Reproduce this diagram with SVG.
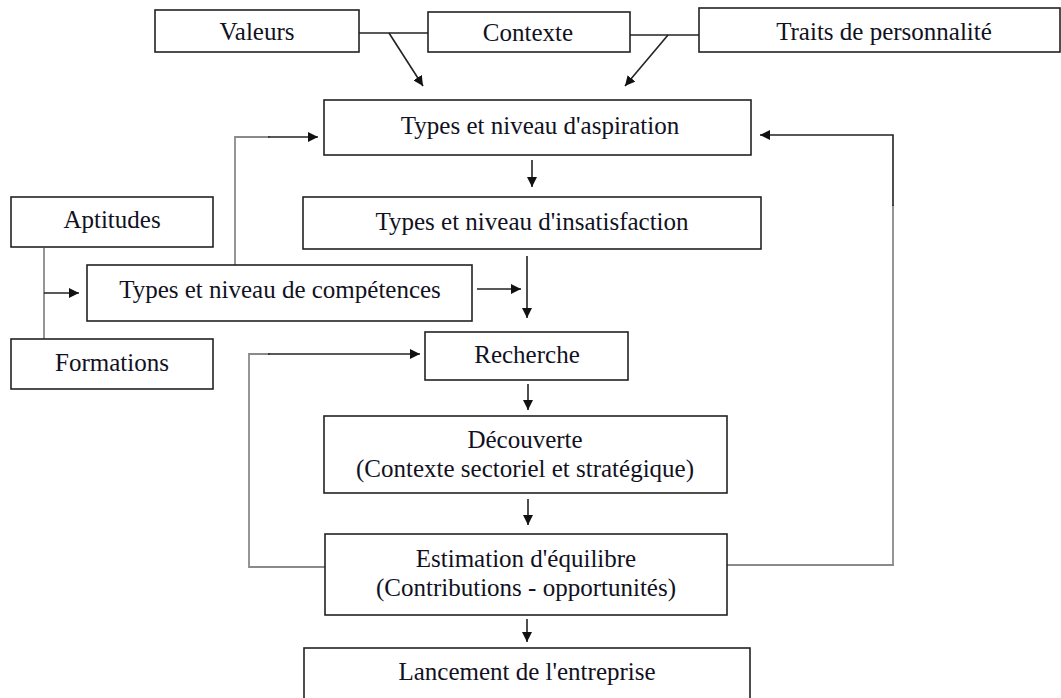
<svg xmlns="http://www.w3.org/2000/svg" width="1061" height="698" viewBox="0 0 1061 698">
  <style>
    .box { fill: #ffffff; stroke: #222222; stroke-width: 1.6; }
    .lbl { font-family: "Liberation Serif", "Times New Roman", serif; font-size: 25px; fill: #111122; text-anchor: middle; }
    .con { fill: none; stroke: #222222; stroke-width: 1.6; }
    .grey { fill: none; stroke: #8a8a8a; stroke-width: 1.8; }
  </style>
  <defs>
    <marker id="arrow" viewBox="0 0 10 10" refX="10" refY="5" markerWidth="10" markerHeight="10" markerUnits="userSpaceOnUse" orient="auto">
      <path d="M0,0 L10,5 L0,10 z" fill="#111111"/>
    </marker>
  </defs>
  <rect width="1061" height="698" fill="#ffffff"/>

  <!-- connectors -->
  <g id="connectors">
    <!-- top row inputs -->
    <line class="con" x1="359" y1="33" x2="428" y2="33"/>
    <line class="con" x1="389" y1="33" x2="423" y2="86" marker-end="url(#arrow)"/>
    <line class="con" x1="630" y1="35" x2="699" y2="35"/>
    <line class="con" x1="668" y1="35" x2="625" y2="86" marker-end="url(#arrow)"/>
    <!-- main chain -->
    <line class="con" x1="532" y1="160" x2="532" y2="187" marker-end="url(#arrow)"/>
    <line class="con" x1="527" y1="256" x2="527" y2="318" marker-end="url(#arrow)"/>
    <line class="con" x1="477" y1="289" x2="521" y2="289" marker-end="url(#arrow)"/>
    <line class="con" x1="528" y1="384" x2="528" y2="410" marker-end="url(#arrow)"/>
    <line class="con" x1="528" y1="499" x2="528" y2="525" marker-end="url(#arrow)"/>
    <line class="con" x1="527" y1="619" x2="527" y2="642" marker-end="url(#arrow)"/>
    <!-- aptitudes / formations into competences -->
    <line class="grey" x1="44" y1="248" x2="44" y2="339"/>
    <line class="con" x1="44" y1="293" x2="79" y2="293" marker-end="url(#arrow)"/>
    <!-- competences up to aspiration -->
    <polyline class="grey" points="235,265 235,137 270,137"/>
    <line class="con" x1="268" y1="137" x2="318" y2="137" marker-end="url(#arrow)"/>
    <!-- feedback loop to recherche -->
    <polyline class="grey" points="325,567 249,567 249,354 270,354"/>
    <line class="con" x1="268" y1="354" x2="420" y2="354" marker-end="url(#arrow)"/>
    <!-- feedback loop to aspiration -->
    <polyline class="grey" points="727,565 893,565 893,205"/>
    <polyline class="con" points="893,206 893,135 760,135" marker-end="url(#arrow)"/>
  </g>

  <!-- nodes -->
  <g id="valeurs">
    <rect class="box" x="155" y="10" width="204" height="42"/>
    <text class="lbl" x="257" y="40">Valeurs</text>
  </g>
  <g id="contexte">
    <rect class="box" x="428" y="12" width="202" height="40"/>
    <text class="lbl" x="528" y="41">Contexte</text>
  </g>
  <g id="traits">
    <rect class="box" x="699" y="8" width="361" height="44"/>
    <text class="lbl" x="884" y="40">Traits de personnalité</text>
  </g>
  <g id="aspiration">
    <rect class="box" x="324" y="100" width="427" height="55"/>
    <text class="lbl" x="540" y="134">Types et niveau d'aspiration</text>
  </g>
  <g id="insatisfaction">
    <rect class="box" x="303" y="197" width="458" height="52"/>
    <text class="lbl" x="532" y="230">Types et niveau d'insatisfaction</text>
  </g>
  <g id="aptitudes">
    <rect class="box" x="11" y="197" width="202" height="50"/>
    <text class="lbl" x="112" y="228">Aptitudes</text>
  </g>
  <g id="competences">
    <rect class="box" x="87" y="265" width="385" height="56"/>
    <text class="lbl" x="280" y="298">Types et niveau de compétences</text>
  </g>
  <g id="formations">
    <rect class="box" x="11" y="339" width="202" height="50"/>
    <text class="lbl" x="112" y="371">Formations</text>
  </g>
  <g id="recherche">
    <rect class="box" x="425" y="332" width="203" height="48"/>
    <text class="lbl" x="527" y="363">Recherche</text>
  </g>
  <g id="decouverte">
    <rect class="box" x="324" y="416" width="403" height="77"/>
    <text class="lbl" x="525" y="448">Découverte</text>
    <text class="lbl" x="525" y="477">(Contexte sectoriel et stratégique)</text>
  </g>
  <g id="estimation">
    <rect class="box" x="325" y="534" width="402" height="81"/>
    <text class="lbl" x="526" y="567">Estimation d'équilibre</text>
    <text class="lbl" x="526" y="596">(Contributions - opportunités)</text>
  </g>
  <g id="lancement">
    <rect class="box" x="304" y="648" width="446" height="60"/>
    <text class="lbl" x="527" y="680">Lancement de l'entreprise</text>
  </g>
</svg>
